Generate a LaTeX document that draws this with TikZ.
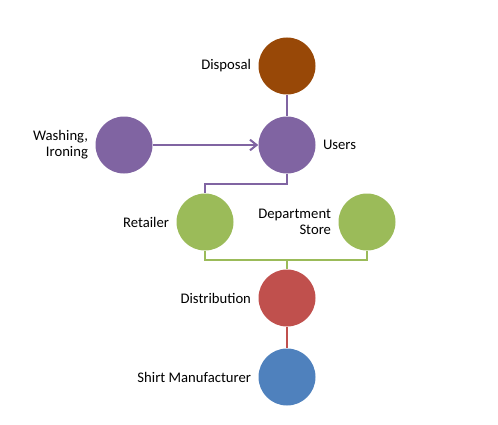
\documentclass[tikz,border=0pt]{standalone}
\usepackage{fontspec}
\setmainfont{Carlito}
\usetikzlibrary{positioning, arrows.meta}
\definecolor{brownblock}{RGB}{152, 72, 7}
\definecolor{purpleblock}{RGB}{128, 100, 162}
\definecolor{greenblock}{RGB}{155, 187, 89}
\definecolor{redblock}{RGB}{192, 80, 77}
\definecolor{blueblock}{RGB}{79, 129, 189}
\tikzset{
  dot/.style={circle, minimum size=42.75pt, inner sep=0pt, fill=#1},
  lbl/.style={font=\fontsize{11}{12}\selectfont, inner sep=0pt, align=#1},
  lbl/.default=right,
  link/.style={#1, line width=1.5pt}
}

\begin{document}
\begin{tikzpicture}[x=0.75pt, y=-0.75pt]
			\useasboundingbox (0,0) rectangle (498,424);

			% circles
			\node[dot=brownblock]  (disposal) at (287, 66)  {};
			\node[dot=purpleblock] (users)    at (287, 145) {};
			\node[dot=purpleblock] (washing)  at (124, 145) {};
			\node[dot=greenblock]  (retailer) at (205, 222) {};
			\node[dot=greenblock]  (dept)     at (367, 222) {};
			\node[dot=redblock]    (distrib)  at (287, 298) {};
			\node[dot=blueblock]   (shirt)    at (287, 377) {};

			% labels
			\node[lbl, left=5.25pt of disposal]  (disposaltxt) {Disposal};
			\node[lbl=left, right=5.25pt of users] (userstxt) {Users};
			\node[lbl, left=5.25pt of washing]   (washingtxt)  {Washing,\\Ironing};
			\node[lbl, left=5.25pt of retailer]  (retailertxt) {Retailer};
			\node[lbl, left=5.25pt of dept]      (depttxt)     {Department\\Store};
			\node[lbl, left=5.25pt of distrib]   (distribtxt)  {Distribution};
			\node[lbl, left=5.25pt of shirt]     (shirttxt)    {Shirt Manufacturer};

			% connectors
			\draw[link=purpleblock] (disposal) -- (users);
			\draw[link=purpleblock, -{Straight Barb[length=5pt, width=8pt]}] (washing) -- (users);
			\draw[link=purpleblock] (users.south) -- ++(0,10) -| (retailer.north);
			\draw[link=greenblock] (retailer.south) -- ++(0,9) coordinate (gl) -| (dept.south);
			\draw[link=greenblock] (gl -| distrib.north) -- (distrib.north);
			\draw[link=redblock] (distrib) -- (shirt);
		\end{tikzpicture}
\end{document}
